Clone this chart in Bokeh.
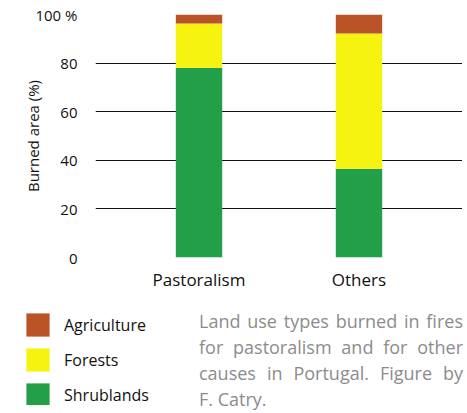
from bokeh.plotting import figure
from bokeh.models import FactorRange, Range1d, FixedTicker, Legend, LegendItem, Div, ColumnDataSource
from bokeh.layouts import column, row
from bokeh.embed import file_html
from bokeh.resources import INLINE

# ---- data ----
causes = ["Pastoralism", "Others"]
land_uses = ["Shrublands", "Forests", "Agriculture"]
shrublands = [78.1, 36.5]
forests = [18.2, 55.7]
agriculture = [3.7, 7.8]
y_ticks = [0, 20, 40, 60, 80, 100]
y_tick_labels = {100: "100 %"}
legend_order = ["Agriculture", "Forests", "Shrublands"]
caption_lines = [
    "Land use types burned in fires",
    "for pastoralism and for other",
    "causes in Portugal. Figure by",
    "F. Catry.",
]

colors = {"Shrublands": "#239E49", "Forests": "#F7F311", "Agriculture": "#BA5326"}
FONT = "Open Sans"

src = ColumnDataSource(dict(cause=causes, Shrublands=shrublands, Forests=forests, Agriculture=agriculture))

p = figure(
    x_range=FactorRange(factors=causes, range_padding=0.147),
    y_range=Range1d(0, 100),
    width=462, height=293,
    min_border_left=95, min_border_right=0, min_border_top=14, min_border_bottom=36,
    output_backend="svg", toolbar_location=None,
)
p.outline_line_color = None
p.vbar_stack(land_uses, x="cause", width=0.29, source=src,
             color=[colors[k] for k in land_uses], line_color=None)

p.xgrid.grid_line_color = None
p.ygrid.ticker = FixedTicker(ticks=y_ticks)
p.ygrid.grid_line_color = "#111111"
p.ygrid.grid_line_width = 1.2

p.yaxis.ticker = FixedTicker(ticks=y_ticks)
p.yaxis.major_label_overrides = y_tick_labels
p.yaxis.axis_line_color = None
p.yaxis.major_tick_line_color = None
p.yaxis.minor_tick_line_color = None
p.yaxis.major_label_standoff = 12
p.yaxis.major_label_text_font = FONT
p.yaxis.major_label_text_font_size = "15px"
p.yaxis.major_label_text_color = "#111111"
p.yaxis.axis_label = "Burned area (%)"
p.yaxis.axis_label_text_font = FONT
p.yaxis.axis_label_text_font_size = "15px"
p.yaxis.axis_label_text_font_style = "normal"
p.yaxis.axis_label_text_color = "#111111"
p.yaxis.axis_label_standoff = -11

p.xaxis.axis_line_color = None
p.xaxis.major_tick_line_color = None
p.xaxis.minor_tick_line_color = None
p.xaxis.major_label_standoff = 4
p.xaxis.major_label_text_font = FONT
p.xaxis.major_label_text_font_size = "17px"
p.xaxis.major_label_text_color = "#111111"

# legend figure: same stacked data, drawn far outside its visible range so only the legend shows
lf = figure(width=199, height=112, output_backend="svg", toolbar_location=None,
            x_axis_location=None, y_axis_location=None,
            min_border=0, x_range=FactorRange(factors=causes), y_range=Range1d(1000, 1001))
lf.outline_line_color = None
lf.grid.grid_line_color = None
rends = lf.vbar_stack(land_uses, x="cause", width=0.29, source=src,
                      color=[colors[k] for k in land_uses], line_color=None)
rmap = dict(zip(land_uses, rends))
items = [LegendItem(label=name, renderers=[rmap[name]]) for name in legend_order]
leg = Legend(items=items, location=(23, -4), orientation="vertical",
             glyph_width=29, glyph_height=29, spacing=6, label_standoff=12,
             padding=0, margin=0, border_line_color=None, background_fill_alpha=0,
             label_text_font=FONT, label_text_font_size="16px", label_text_color="#111111")
lf.add_layout(leg)

lines_html = '<div style="width:264px;">' + "".join(
    f'<div style="width:264px;white-space:nowrap;text-align:justify;text-align-last:{"justify" if i < len(caption_lines) - 1 else "left"};">{t}</div>'
    for i, t in enumerate(caption_lines)
) + "</div>"
div = Div(text=lines_html, width=264, height=104, margin=(15, 0, 0, 0),
          styles={"font-family": FONT, "font-size": "18px", "line-height": "26px", "color": "#8c8c8c"})

layout = column(p, row(lf, div, spacing=0), spacing=0)
open("out.html", "w").write(file_html(layout, INLINE))
